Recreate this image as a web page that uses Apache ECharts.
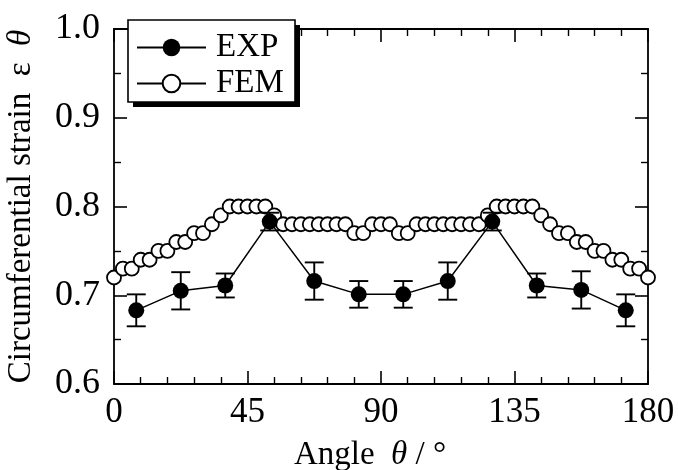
<!DOCTYPE html>
<html>
<head>
<meta charset="utf-8">
<script src="https://cdn.jsdelivr.net/npm/echarts@6/dist/echarts.min.js"></script>
<style>
  html, body { margin: 0; padding: 0; background: #fff; }
  #chart { width: 678px; height: 470px; }
</style>
</head>
<body>
<div id="chart"></div>
<script>
// FEM prediction, every 3 degrees
const angleFem = [0, 3, 6, 9, 12, 15, 18, 21, 24, 27, 30, 33, 36, 39, 42, 45, 48, 51, 54, 57,
  60, 63, 66, 69, 72, 75, 78, 81, 84, 87, 90, 93, 96, 99, 102, 105, 108, 111, 114, 117,
  120, 123, 126, 129, 132, 135, 138, 141, 144, 147, 150, 153, 156, 159, 162, 165, 168, 171, 174, 177, 180];
const fem = [0.72, 0.73, 0.73, 0.74, 0.74, 0.75, 0.75, 0.76, 0.76, 0.77, 0.77, 0.78, 0.79, 0.80, 0.80, 0.80, 0.80, 0.80, 0.79, 0.78,
  0.78, 0.78, 0.78, 0.78, 0.78, 0.78, 0.78, 0.77, 0.77, 0.78, 0.78, 0.78, 0.77, 0.77, 0.78, 0.78, 0.78, 0.78, 0.78, 0.78,
  0.78, 0.78, 0.79, 0.80, 0.80, 0.80, 0.80, 0.80, 0.79, 0.78, 0.77, 0.77, 0.76, 0.76, 0.75, 0.75, 0.74, 0.74, 0.73, 0.73, 0.72];

// Measured strain (mean and scatter)
const angleExp = [7.5, 22.5, 37.5, 52.5, 67.5, 82.5, 97.5, 112.5, 127.5, 142.5, 157.5, 172.5];
const expMean = [0.683, 0.705, 0.711, 0.783, 0.716, 0.701, 0.701, 0.716, 0.783, 0.711, 0.706, 0.683];
const expErr = [0.018, 0.021, 0.0135, 0.010, 0.021, 0.015, 0.015, 0.021, 0.010, 0.0135, 0.021, 0.018];

const xTicks = [0, 45, 90, 135, 180];
const yTicks = [0.6, 0.7, 0.8, 0.9, 1.0];

const FONT = "'Liberation Serif', 'Times New Roman', serif";
const BLACK = '#000';

const femData = angleFem.map((a, i) => [a, fem[i]]);
const expData = angleExp.map((a, i) => [a, expMean[i]]);
const errData = angleExp.map((a, i) => [a, expMean[i] - expErr[i], expMean[i] + expErr[i]]);

const axisLine = { show: true, onZero: false, lineStyle: { color: BLACK, width: 1.8 } };
const axisTick = { show: true, inside: true, length: 13, lineStyle: { color: BLACK, width: 1.6 } };

function xAxisDef(pos, labels) {
  return {
    type: 'value', position: pos, min: 0, max: 180, interval: 45,
    axisLine: axisLine, axisTick: axisTick,
    minorTick: { show: true, splitNumber: 5, length: 7, lineStyle: { color: BLACK, width: 1.4 } },
    splitLine: { show: false },
    axisLabel: labels ? {
      show: true, color: BLACK, fontFamily: FONT, fontSize: 35, margin: 11,
      formatter: v => (xTicks.indexOf(v) >= 0 ? String(v) : '')
    } : { show: false }
  };
}
function yAxisDef(pos, labels) {
  return {
    type: 'value', position: pos, min: 0.6, max: 1.0, interval: 0.1,
    axisLine: axisLine, axisTick: axisTick,
    minorTick: { show: true, splitNumber: 2, length: 7, lineStyle: { color: BLACK, width: 1.4 } },
    splitLine: { show: false },
    axisLabel: labels ? {
      show: true, color: BLACK, fontFamily: FONT, fontSize: 36, margin: 14,
      formatter: v => {
        const t = yTicks.find(k => Math.abs(k - v) < 1e-6);
        return t === undefined ? '' : t.toFixed(1);
      }
    } : { show: false }
  };
}

const xBottom = xAxisDef('bottom', true);
xBottom.name = 'Angle  {i|θ} / °';
xBottom.nameLocation = 'middle';
xBottom.nameGap = 55;
xBottom.nameTextStyle = {
  color: BLACK, fontFamily: FONT, fontSize: 33, padding: [0, 22, 0, 0],
  rich: { i: { fontFamily: FONT, fontSize: 33, fontStyle: 'italic', color: BLACK } }
};

const yLeft = yAxisDef('left', true);
yLeft.name = 'Circumferential strain  ε  {i|θ}';
yLeft.nameLocation = 'middle';
yLeft.nameGap = 76;
yLeft.nameTextStyle = {
  color: BLACK, fontFamily: FONT, fontSize: 33,
  rich: { i: { fontFamily: FONT, fontSize: 33, fontStyle: 'italic', color: BLACK } }
};

// Legend frame with a solid drop shadow
const legendBox = { x: 128, y: 20, w: 167, h: 82, shift: 5 };

const chart = echarts.init(document.getElementById('chart'), null, { renderer: 'canvas' });
chart.setOption({
  animation: false,
  backgroundColor: '#fff',
  grid: { left: 114, right: 30, top: 29, bottom: 86, containLabel: false, outerBoundsMode: 'none' },
  xAxis: [xBottom, xAxisDef('top', false)],
  yAxis: [yLeft, yAxisDef('right', false)],
  graphic: [
    {
      type: 'rect', z: 10,
      shape: { x: legendBox.x + legendBox.shift, y: legendBox.y + legendBox.shift, width: legendBox.w, height: legendBox.h },
      style: { fill: BLACK }
    },
    {
      type: 'rect', z: 11,
      shape: { x: legendBox.x, y: legendBox.y, width: legendBox.w, height: legendBox.h },
      style: { fill: '#fff', stroke: BLACK, lineWidth: 1.6 }
    }
  ],
  legend: {
    left: 128, top: 20, orient: 'vertical', z: 20,
    data: ['EXP', 'FEM'],
    itemWidth: 69, itemHeight: 22, itemGap: 3,
    padding: [11, 12, 4, 8],
    textStyle: { color: BLACK, fontFamily: FONT, fontSize: 33, padding: [0, 0, 0, 5] }
  },
  series: [
    {
      name: 'FEM', type: 'line', data: femData, z: 2,
      symbol: 'circle', symbolSize: 14,
      lineStyle: { color: BLACK, width: 1.4 },
      itemStyle: { color: '#fff', borderColor: BLACK, borderWidth: 1.8 }
    },
    {
      name: 'errorbar', type: 'custom', data: errData, z: 3,
      renderItem: function (params, api) {
        const x = api.value(0);
        const top = api.coord([x, api.value(2)]);
        const bot = api.coord([x, api.value(1)]);
        const w = 9.5;
        const st = { stroke: BLACK, lineWidth: 1.9 };
        return {
          type: 'group',
          children: [
            { type: 'line', shape: { x1: top[0], y1: top[1], x2: bot[0], y2: bot[1] }, style: st },
            { type: 'line', shape: { x1: top[0] - w, y1: top[1], x2: top[0] + w, y2: top[1] }, style: st },
            { type: 'line', shape: { x1: bot[0] - w, y1: bot[1], x2: bot[0] + w, y2: bot[1] }, style: st }
          ]
        };
      }
    },
    {
      name: 'EXP', type: 'line', data: expData, z: 4,
      symbol: 'circle', symbolSize: 16,
      lineStyle: { color: BLACK, width: 1.5 },
      itemStyle: { color: BLACK, borderColor: BLACK, borderWidth: 0 }
    }
  ]
});
</script>
</body>
</html>
